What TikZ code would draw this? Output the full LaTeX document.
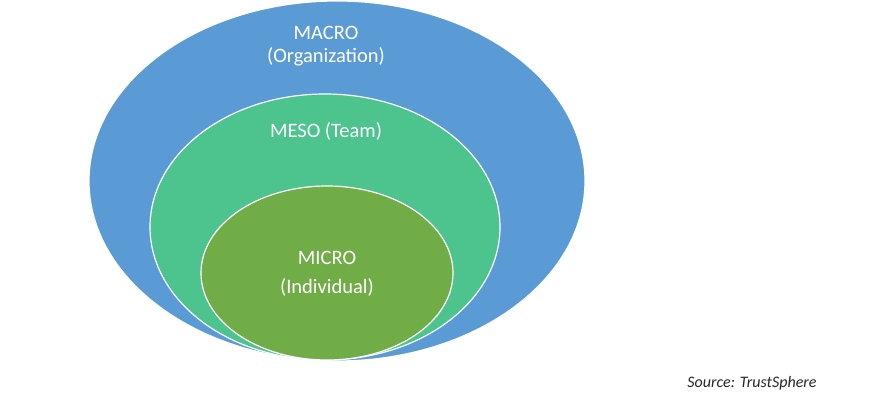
\documentclass[tikz,border=0pt]{standalone}
\usepackage{fontspec}
\setmainfont{Carlito}
\usetikzlibrary{shapes.geometric}
\definecolor{macroc}{HTML}{5B9BD5}
\definecolor{mesoc}{HTML}{4DC48E}
\definecolor{microc}{HTML}{70AD47}
\begin{document}
\begin{tikzpicture}[x=1pt,y=-1pt,
  ring/.style={draw=white,line width=1.2pt},
  lbl/.style={text=white,font=\fontsize{20.5}{24}\selectfont,align=center}]
\useasboundingbox (0,0) rectangle (876,404);
\fill[white] (0,0) rectangle (876,404);
\node[ring,ellipse,fill=macroc,minimum width=496pt,minimum height=360pt,inner sep=0pt] (macro) at (337,181) {};
\node[ring,ellipse,fill=mesoc,minimum width=350pt,minimum height=266pt,inner sep=0pt] (meso) at (325,227) {};
\node[ring,ellipse,fill=microc,minimum width=252pt,minimum height=174pt,inner sep=0pt] (micro) at (327,273) {};
\node[lbl] (t1) at (326,33) {MACRO};
\node[lbl] (t2) at (326,57) {(Organization)};
\node[lbl] (t3) at (326,131) {MESO (Team)};
\node[lbl] (t4) at (327,258) {MICRO};
\node[lbl] (t5) at (327,287) {(Individual)};
\node[font=\itshape\fontsize{16}{19}\selectfont,text=black!85] (src) at (752,383) {Source: TrustSphere};
\end{tikzpicture}
\end{document}
